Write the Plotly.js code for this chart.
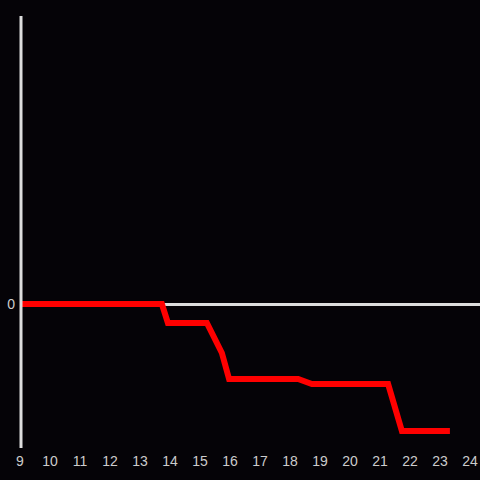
<!DOCTYPE html>
<html><head><meta charset="utf-8">
<script src="https://cdn.plot.ly/plotly-3.0.1.min.js"></script>
<style>html,body{margin:0;padding:0;background:#050307;}#chart{width:480px;height:480px;}</style>
</head><body><div id="chart"></div>
<script>
var xValues = [9, 13.73, 13.93, 15.23, 15.73, 15.97, 18.27, 18.73, 21.27, 21.73, 23.33];
var yValues = [0, 0, -0.132, -0.132, -0.34, -0.521, -0.521, -0.556, -0.556, -0.882, -0.882];
var xTicks = [9,10,11,12,13,14,15,16,17,18,19,20,21,22,23,24];
var yTicks = [0];

Plotly.newPlot('chart', [{
  x: xValues, y: yValues, type: 'scatter', mode: 'lines',
  line: {color: '#ff0000', width: 6},
  hoverinfo: 'skip'
}], {
  width: 480, height: 480,
  paper_bgcolor: '#050307', plot_bgcolor: '#050307',
  margin: {l: 20, r: 0, t: 16, b: 32},
  showlegend: false,
  font: {family: 'Liberation Sans, Arial, sans-serif', size: 14, color: '#cccccc'},
  xaxis: {range: [9, 24.333], tickvals: xTicks, ticktext: xTicks.map(String),
    showgrid: false, zeroline: false, showline: false, ticks: '', ticklabelstandoff: 3, fixedrange: true},
  yaxis: {range: [-1, 2], tickvals: yTicks, ticktext: ['0'], showgrid: false,
    zeroline: true, zerolinecolor: '#dddddd', zerolinewidth: 3,
    showline: false, ticks: '', ticklabelstandoff: 4, fixedrange: true},
  shapes: [{type: 'line', xref: 'paper', yref: 'paper', x0: 1/460, x1: 1/460, y0: 0, y1: 1,
    line: {color: '#dddddd', width: 3}, layer: 'above'}]
}, {staticPlot: true});
</script></body></html>
